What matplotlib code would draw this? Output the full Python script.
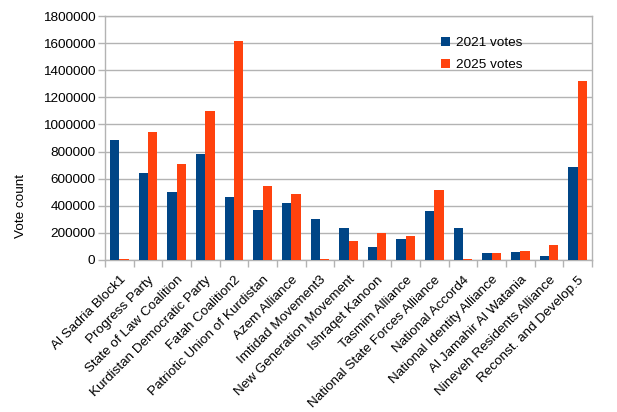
import matplotlib
matplotlib.use("Agg")
import matplotlib.pyplot as plt
import numpy as np
from matplotlib.ticker import FixedLocator, NullFormatter

categories = ["Al Sadria Block1", "Progress Party", "State of Law Coalition",
              "Kurdistan Democratic Party", "Fatah Coalition2", "Patriotic Union of Kurdistan",
              "Azem Alliance", "Imtidad Movement3", "New Generation Movement",
              "Ishraqet Kanoon", "Tasmim Alliance", "National State Forces Alliance",
              "National Accord4", "National Identity Alliance", "Al Jamahir Al Watania",
              "Nineveh Residents Alliance", "Reconst. and Develop.5"]
votes_2021 = [885000, 639000, 502000, 782000, 462000, 369000, 423000, 300000, 234000,
              98000, 155000, 361000, 236000, 49000, 59000, 27000, 684000]
votes_2025 = [6000, 944000, 711000, 1101000, 1613000, 548000, 484000, 5000, 140000,
              199000, 175000, 514000, 5000, 49000, 69000, 111000, 1320000]
series_labels = ["2021 votes", "2025 votes"]
yticks = list(range(0, 1800001, 200000))

plt.rcParams['font.family'] = ['Liberation Sans', 'DejaVu Sans']
plt.rcParams['font.size'] = 9.7

W, H = 617, 412
fig = plt.figure(figsize=(W / 100, H / 100), dpi=100)
ax = fig.add_axes([105 / W, 1 - 260 / H, (592 - 105) / W, (260 - 16) / H])

x = np.arange(len(categories))
bw = 0.325
blue = "#004586"
orange = "#ff420e"
ax.bar(x - bw / 2, votes_2021, bw, color=blue, label=series_labels[0], zorder=3)
ax.bar(x + bw / 2, votes_2025, bw, color=orange, label=series_labels[1], zorder=3)

ax.set_xlim(-0.5, len(categories) - 0.5)
ax.set_ylim(0, 1800000)
ax.set_yticks(yticks)
ax.set_yticklabels([str(v) for v in yticks])
ax.yaxis.grid(True, color="#b3b3b3", linewidth=1, zorder=0)
ax.set_axisbelow(True)

ax.set_xticks(x)
ax.set_xticklabels(categories, rotation=45, ha="right", rotation_mode="anchor")
ax.xaxis.set_minor_locator(FixedLocator(np.arange(-0.5, len(categories), 1.0)))
ax.xaxis.set_minor_formatter(NullFormatter())
ax.tick_params(axis="x", which="major", length=0, pad=10)
ax.tick_params(axis="x", which="minor", length=5, color="#b3b3b3", width=1)
ax.tick_params(axis="y", length=5, color="#b3b3b3", width=1, pad=2)

for s in ax.spines.values():
    s.set_color("#b3b3b3")
    s.set_linewidth(1)

fig.text(20.5 / W, 1 - 206 / H, "Vote count", rotation=90, ha="center", va="center")

leg = ax.legend(loc="upper left", bbox_to_anchor=((441 - 105) / (592 - 105), 1 - (37 - 16) / (260 - 16)),
                frameon=False, handlelength=0.7, handleheight=0.7, handletextpad=0.4,
                labelspacing=0.7, borderaxespad=0, borderpad=0)

fig.savefig("out.png", dpi=100)
